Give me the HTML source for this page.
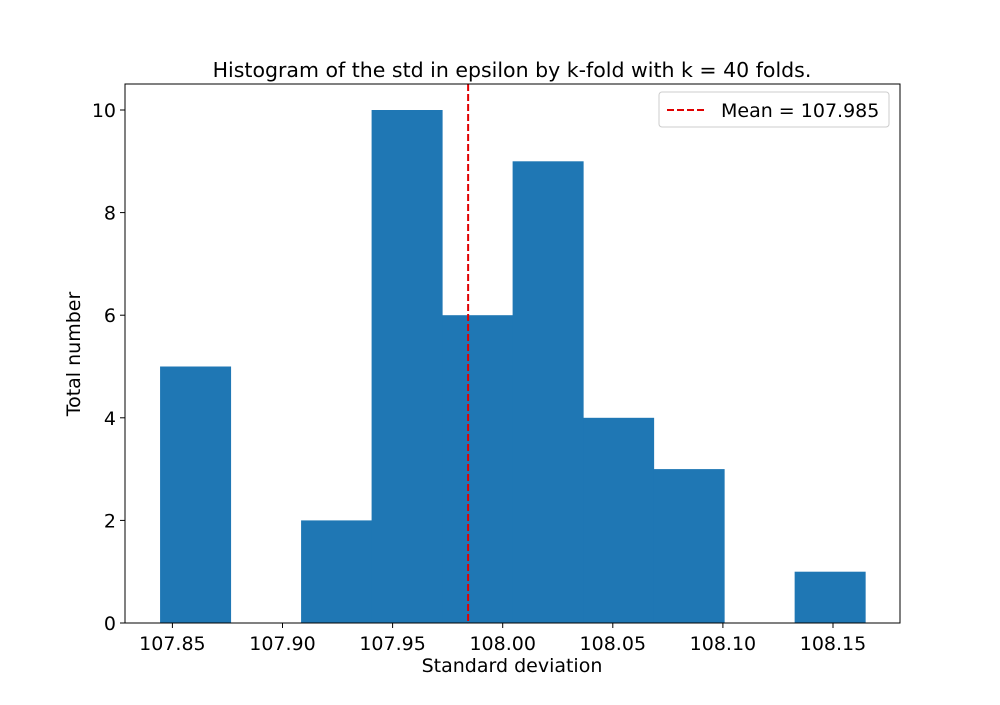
<!DOCTYPE html>
<html><head><meta charset="utf-8"><style>body{margin:0;background:#fff}svg text{font-family:"DejaVu Sans","Liberation Sans",sans-serif;fill:#000}</style></head>
<body>
<svg id="c" width="1000" height="700"></svg>
<script>
const binStart = 107.8444;
const binWidth = 0.03202;
const counts = [5,0,2,10,6,9,4,3,0,1];
const xTicks = [107.85,107.90,107.95,108.00,108.05,108.10,108.15];
const xTickLabels = ["107.85","107.90","107.95","108.00","108.05","108.10","108.15"];
const yTicks = [0,2,4,6,8,10];
const meanValue = 107.9843;
const meanLabel = "Mean = 107.985";

const L=125,R=900,T=84,B=623;
const X=v=>502.7+(v-108)*2202;
const Y=v=>623-v*51.3;
const NS="http://www.w3.org/2000/svg";
const svg=document.getElementById('c');
function mk(t,a,txt){const e=document.createElementNS(NS,t);for(const k in a)e.setAttribute(k,a[k]);if(txt!==undefined)e.textContent=txt;svg.appendChild(e);return e;}

counts.forEach((c,i)=>{
  if(c<=0)return;
  const x0=X(binStart+i*binWidth),x1=X(binStart+(i+1)*binWidth);
  const r=mk('rect',{x:x0,y:Y(c),width:x1-x0+0.5,height:Y(0)-Y(c),fill:'#1f77b4'});
  
  
});
const ml=mk('line',{x1:X(meanValue),x2:X(meanValue),y1:T,y2:B,stroke:'#e00000','stroke-width':2,'stroke-dasharray':'7,3'});


const fr=mk('rect',{x:L,y:T,width:R-L,height:B-T,fill:'none',stroke:'#000','stroke-width':1});


xTicks.forEach((v,i)=>{
  mk('line',{x1:X(v),x2:X(v),y1:B,y2:B+5,stroke:'#000'});
  const t=mk('text',{x:X(v),y:B+27,'text-anchor':'middle','font-size':19},xTickLabels[i]);
  
  
});
yTicks.forEach(v=>{
  mk('line',{x1:L-5,x2:L,y1:Y(v),y2:Y(v),stroke:'#000'});
  const t=mk('text',{x:L-9,y:Y(v)+7,'text-anchor':'end','font-size':19},String(v));
  
  
});
const ti=mk('text',{x:512,y:77,'text-anchor':'middle','font-size':20.5},'Histogram of the std in epsilon by k-fold with k = 40 folds.');


const xl=mk('text',{x:512,y:672,'text-anchor':'middle','font-size':19},'Standard deviation');


const yl=mk('text',{x:80,y:354,'text-anchor':'middle','font-size':19,transform:'rotate(-90 80 354)'},'Total number');


const lg=mk('rect',{x:659,y:92,width:230,height:35,rx:3,fill:'#fff',stroke:'#ccc'});


mk('line',{x1:667,x2:705,y1:110,y2:110,stroke:'#e00000','stroke-width':2,'stroke-dasharray':'7,3'});
const lt=mk('text',{x:721,y:117,'font-size':19},meanLabel);


</script>
</body></html>
